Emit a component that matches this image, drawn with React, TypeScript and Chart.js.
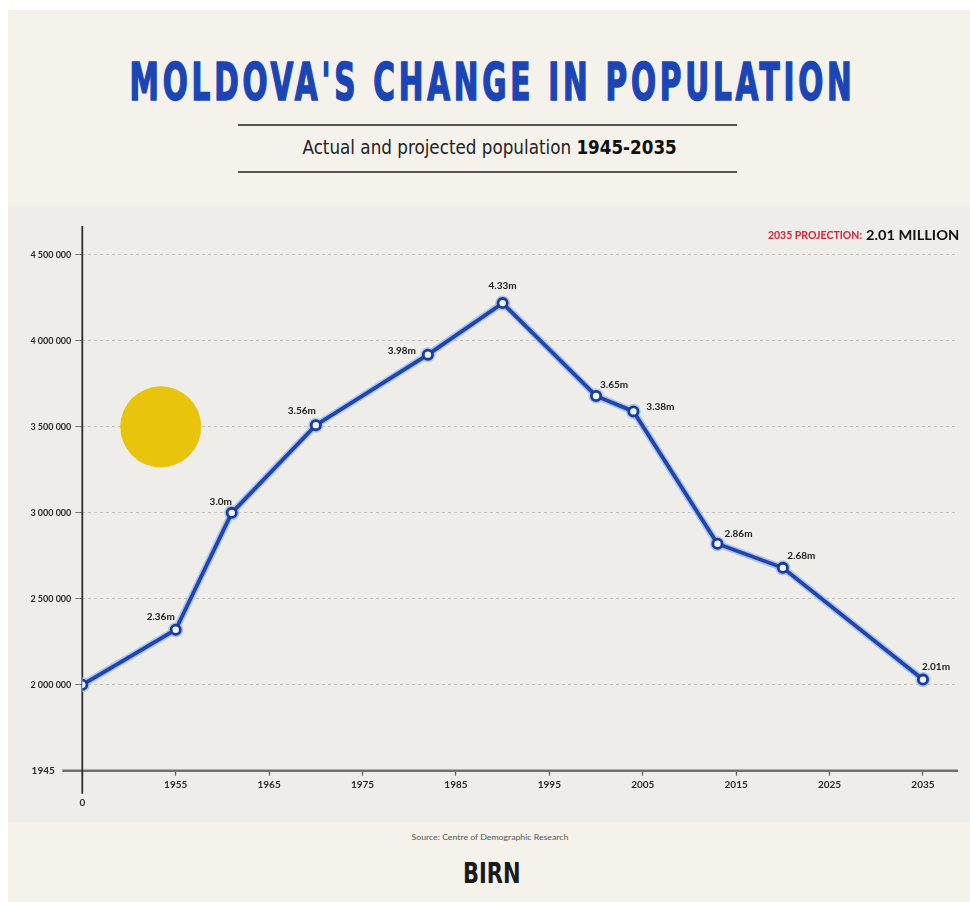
import React, { useEffect, useLayoutEffect, useRef } from 'react';
import { Chart, registerables } from 'chart.js';

Chart.register(...registerables);

// ---------------- data ----------------
const years = [1945, 1955, 1961, 1970, 1982, 1990, 2000, 2004, 2013, 2020, 2035];
const population = [2000000, 2320000, 3000000, 3510000, 3920000, 4220000, 3680000, 3590000, 2820000, 2680000, 2030000];
const pointLabels = ['', '2.36m', '3.0m', '3.56m', '3.98m', '4.33m', '3.65m', '3.38m', '2.86m', '2.68m', '2.01m'];
const yTickValues = [1500000, 2000000, 2500000, 3000000, 3500000, 4000000, 4500000];
const xTickYears = [1945, 1955, 1965, 1975, 1985, 1995, 2005, 2015, 2025, 2035];
const yOriginLabel = '1945';
const xOriginLabel = '0';

const TITLE = "MOLDOVA'S CHANGE IN POPULATION";
const SUBTITLE = 'Actual and projected population ';
const SUBTITLE_BOLD = '1945-2035';
const PROJECTION_LABEL = '2035 PROJECTION:';
const PROJECTION_VALUE = '2.01 MILLION';
const SOURCE = 'Source: Centre of Demographic Research';

// decorative sun, anchored to the scales
const SUN_YEAR = 1953.4;
const SUN_VALUE = 3500000;

// style: label offsets (px) relative to each point
const LABEL_OFFSETS: [number, number][] = [
  [0, 0], [-15, -13], [-11, -11], [-14, -14], [-26, -4], [0, -17],
  [18, -11], [27, -4.5], [21, -10], [18.5, -12.5], [13, -13],
];

const FONT = 'Lato, "DejaVu Sans", sans-serif';

function FitText(props: {
  cx: number; cy: number; width: number; size: number; family: string;
  weight?: any; color?: string; spacing?: number; stroke?: string; children: any;
}) {
  const { cx, cy, width, size, family, weight, color, spacing = 0, stroke, children } = props;
  const ref = useRef<HTMLSpanElement>(null);
  useLayoutEffect(() => {
    const el = ref.current;
    if (!el) return;
    el.style.transform = 'none';
    const w = el.offsetWidth - 2 * spacing;
    if (w > 0) el.style.transform = `scaleX(${width / w})`;
  });
  return (
    <div
      style={{
        position: 'absolute', left: cx - 2000, width: 4000, top: cy - size / 2, height: size,
        lineHeight: `${size}px`, display: 'flex', justifyContent: 'center', whiteSpace: 'nowrap',
      }}
    >
      <span
        ref={ref}
        style={{
          display: 'inline-block', flex: 'none', transformOrigin: '50% 50%', fontSize: size, fontFamily: family,
          fontWeight: weight ?? 'normal', color: color ?? '#222', letterSpacing: spacing,
          paddingLeft: spacing, WebkitTextStroke: stroke,
        } as any}
      >
        {children}
      </span>
    </div>
  );
}

function PopulationChart() {
  const ref = useRef<HTMLCanvasElement>(null);
  useEffect(() => {
    const canvas = ref.current;
    if (!canvas) return;
    const fmt = (v: number) => String(Math.round(v)).replace(/\B(?=(\d{3})+(?!\d))/g, ' ');
    const pts = years.map((x, i) => ({ x, y: population[i] }));

    const decor = {
      id: 'decor',
      beforeDatasetsDraw(chart: any) {
        const { ctx, chartArea, scales } = chart;
        const xs = scales.x;
        const ys = scales.y;
        const base = ys.getPixelForValue(yTickValues[0]);
        const left = xs.getPixelForValue(xTickYears[0]);
        ctx.save();
        // sun
        ctx.fillStyle = '#e9c40d';
        ctx.beginPath();
        ctx.arc(xs.getPixelForValue(SUN_YEAR), ys.getPixelForValue(SUN_VALUE), 40.5, 0, Math.PI * 2);
        ctx.fill();
        // x axis (extended left)
        ctx.strokeStyle = '#707070';
        ctx.lineWidth = 2.5;
        ctx.beginPath();
        ctx.moveTo(left - 20, base);
        ctx.lineTo(chartArea.right, base);
        ctx.stroke();
        // y axis (extended below)
        ctx.strokeStyle = '#2e2e2e';
        ctx.lineWidth = 1.8;
        ctx.beginPath();
        ctx.moveTo(left, chartArea.top - 3);
        ctx.lineTo(left, base + 23);
        ctx.stroke();
        // origin labels
        ctx.fillStyle = '#2a2a2a';
        ctx.font = `bold 10px ${FONT}`;
        ctx.textBaseline = 'middle';
        ctx.textAlign = 'right';
        ctx.fillText(yOriginLabel, left - 27.5, base);
        ctx.textAlign = 'center';
        ctx.fillText(xOriginLabel, left, base + 32);
        ctx.restore();
      },
      afterDatasetsDraw(chart: any) {
        const { ctx } = chart;
        const meta = chart.getDatasetMeta(1);
        ctx.save();
        ctx.font = `bold 10px ${FONT}`;
        ctx.fillStyle = '#222';
        ctx.textAlign = 'center';
        ctx.textBaseline = 'middle';
        meta.data.forEach((el: any, i: number) => {
          const t = pointLabels[i];
          if (!t) return;
          const [dx, dy] = LABEL_OFFSETS[i];
          ctx.fillText(t, el.x + dx, el.y + dy);
        });
        ctx.restore();
      },
    };

    const chart = new Chart(canvas, {
      type: 'line',
      data: {
        datasets: [
          {
            data: pts, borderColor: '#a9c4ee', borderWidth: 7, pointRadius: 7.5,
            pointBackgroundColor: '#a9c4ee', pointBorderWidth: 0, pointHoverRadius: 0,
            tension: 0, order: 2,
          },
          {
            data: pts, borderColor: '#2145ab', borderWidth: 3.8, pointRadius: 4.6,
            pointBorderWidth: 2.8, pointBorderColor: '#1c3b94', pointBackgroundColor: '#eef4fc',
            tension: 0, order: 1,
          },
        ],
      } as any,
      options: {
        animation: false,
        responsive: false,
        maintainAspectRatio: false,
        layout: { padding: { top: 22, right: 12, left: 0, bottom: 0 } },
        plugins: { legend: { display: false }, tooltip: { enabled: false } },
        events: [],
        scales: {
          x: {
            type: 'linear', min: 1945, max: 2038.75,
            afterBuildTicks: (s: any) => { s.ticks = xTickYears.map((value) => ({ value })); },
            afterFit: (s: any) => { s.height = 51.3; },
            ticks: {
              callback: (v: any) => (v === xTickYears[0] ? '' : String(v)),
              autoSkip: false, maxRotation: 0, padding: 3, color: '#2a2a2a',
              font: { family: FONT, size: 10, weight: 'bold' },
            },
            grid: { drawOnChartArea: false, drawTicks: true, tickLength: 5, tickColor: '#666', tickWidth: 1.3 },
            border: { display: false },
          },
          y: {
            type: 'linear', min: 1500000, max: 4651000,
            afterBuildTicks: (s: any) => { s.ticks = yTickValues.map((value) => ({ value })); },
            afterFit: (s: any) => { s.width = 74.3; },
            ticks: {
              callback: (v: any) => (v === yTickValues[0] ? '' : fmt(v)),
              padding: 4, color: '#2a2a2a',
              font: { family: FONT, size: 9, weight: 'bold' },
            },
            grid: {
              color: (c: any) => (c.tick && c.tick.value === yTickValues[0] ? 'rgba(0,0,0,0)' : '#c3c1bc'),
              tickColor: (c: any) => (c.tick && c.tick.value === yTickValues[0] ? 'rgba(0,0,0,0)' : '#777'),
              lineWidth: 1, tickLength: 7, drawTicks: true,
            },
            border: { display: false, dash: [3, 3] },
          },
        },
      } as any,
      plugins: [decor],
    });
    return () => chart.destroy();
  }, []);
  return <canvas ref={ref} width={962} height={615} style={{ display: 'block', width: 962, height: 615 }} />;
}

export default function App() {
  useEffect(() => {
    document.documentElement.style.overflow = 'hidden';
  }, []);
  const subFont = '"Liberation Sans Narrow", "DejaVu Sans Condensed", "DejaVu Sans", sans-serif';
  return (
    <div
      style={{
        position: 'absolute', left: 8, top: 10, width: 962, height: 892, overflow: 'hidden',
        background: '#f5f2ec', fontFamily: FONT,
      }}
    >
      <FitText
        cx={483} cy={72} width={722} size={52} weight="bold" color="#1b45b5" spacing={6}
        stroke="1.6px #1b45b5"
        family={'"DejaVu Sans Condensed", "Liberation Sans Narrow", "DejaVu Sans", sans-serif'}
      >
        {TITLE}
      </FitText>
      <div style={{ position: 'absolute', left: 230, width: 499, top: 114, height: 2, background: '#555' }} />
      <FitText cx={482} cy={137} width={374} size={19} family={subFont} color="#222">
        {SUBTITLE}<b style={{ color: '#111' }}>{SUBTITLE_BOLD}</b>
      </FitText>
      <div style={{ position: 'absolute', left: 230, width: 499, top: 161, height: 2, background: '#555' }} />

      <div style={{ position: 'absolute', left: 0, top: 197, width: 962, height: 615, background: '#efede9' }}>
        <PopulationChart />
      </div>

      <FitText cx={807} cy={225.5} width={94} size={10.5} weight="bold" color="#d6213a" family={FONT}>
        {PROJECTION_LABEL}
      </FitText>
      <FitText cx={904.5} cy={225} width={93} size={14} weight="bold" color="#111" family={FONT}>
        {PROJECTION_VALUE}
      </FitText>

      <FitText cx={482} cy={826.5} width={157} size={8} color="#555" family={FONT}>
        {SOURCE}
      </FitText>
      <FitText cx={484} cy={863.5} width={58} size={29} weight="bold" color="#1a1a1a" family={'"DejaVu Sans", sans-serif'}>
        {'BIRN'}
      </FitText>
    </div>
  );
}
